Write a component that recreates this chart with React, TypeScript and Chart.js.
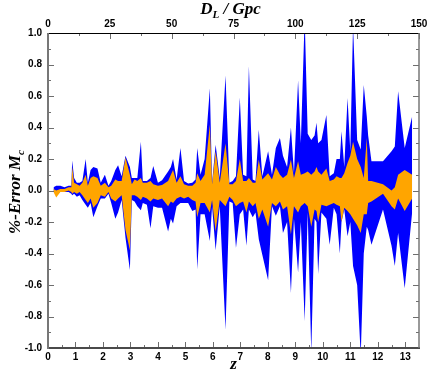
import React, { useEffect, useRef } from 'react';
import { Chart, registerables } from 'chart.js';

Chart.register(...registerables);

// redshift z of each sample
const zValues = [
  0.2, 0.3, 0.45, 0.6, 0.75, 0.85, 0.88, 0.95, 1.05, 1.15,
  1.25, 1.37, 1.45, 1.55, 1.65, 1.8, 1.92, 2.07, 2.2, 2.3,
  2.45, 2.55, 2.68, 2.82, 2.98, 3.05, 3.15, 3.25, 3.38, 3.45,
  3.6, 3.73, 3.83, 4.0, 4.15, 4.37, 4.47, 4.55, 4.68, 4.82,
  4.95, 5.1, 5.25, 5.37, 5.43, 5.55, 5.7, 5.89, 5.97, 6.1,
  6.25, 6.46, 6.6, 6.72, 6.84, 6.98, 7.1, 7.22, 7.31, 7.45,
  7.55, 7.67, 7.8, 8.01, 8.15, 8.29, 8.44, 8.55, 8.7, 8.84,
  8.95, 9.1, 9.2, 9.34, 9.45, 9.58, 9.7, 9.77, 9.83, 9.95,
  10.13, 10.25, 10.4, 10.5, 10.62, 10.68, 10.78, 10.9, 11.0, 11.1,
  11.25, 11.38, 11.49, 11.6, 11.65, 11.77, 12.19, 12.5, 12.62, 12.74,
  12.98, 13.25,
];

// blue band (wide)
const blueUpper = [
  0.02, 0.03, 0.03, 0.02, 0.03, 0.03, 0.19, 0.08, 0.05, 0.05,
  0.06, 0.2, 0.05, 0.13, 0.15, 0.14, 0.05, 0.1, 0.03, 0.06,
  0.13, 0.16, 0.09, 0.22, 0.15, 0.08, 0.08, 0.08, 0.31, 0.06,
  0.06, 0.08, 0.155, 0.05, 0.065, 0.12, 0.15, 0.2, 0.07, 0.27,
  0.06, 0.045, 0.05, 0.07, 0.27, 0.1, 0.2, 0.65, 0.05, 0.29,
  0.08, 0.73, 0.05, 0.06, 0.09, 0.59, 0.1, 0.09, 0.79, 0.07,
  0.06, 0.386, 0.09, 0.25, 0.1, 0.27, 0.333, 0.22, 0.15, 0.4,
  0.11, 0.7, 0.3, 1.1, 0.36, 0.32, 0.35, 0.43, 0.3, 0.32,
  0.48, 0.09, 0.11, 0.2, 0.2, 0.376, 0.15, 0.587, 0.25, 1.05,
  0.32, 0.26, 0.67, 0.47, 0.35, 0.185, 0.185, 0.25, 0.28, 0.63,
  0.27, 0.47,
];
const blueLower = [
  -0.01, -0.02, -0.01, -0.01, -0.01, -0.02, -0.03, -0.02, -0.04, -0.03,
  -0.06, -0.09, -0.11, -0.08, -0.17, -0.1, -0.05, -0.05, -0.02, -0.08,
  -0.18, -0.14, -0.06, -0.3, -0.505, -0.06, -0.07, -0.1, -0.125, -0.08,
  -0.09, -0.24, -0.1, -0.11, -0.11, -0.26, -0.18, -0.21, -0.1, -0.08,
  -0.08, -0.08, -0.13, -0.12, -0.5, -0.15, -0.15, -0.32, -0.1, -0.38,
  -0.1, -0.886, -0.07, -0.08, -0.365, -0.15, -0.12, -0.35, -0.12, -0.17,
  -0.14, -0.31, -0.41, -0.57, -0.1, -0.16, -0.1, -0.27, -0.2, -0.65,
  -0.18, -0.52, -0.2, -0.83, -0.14, -1.03, -0.18, -0.2, -0.53, -0.14,
  -0.18, -0.345, -0.11, -0.15, -0.4, -0.2, -0.12, -0.29, -0.2, -0.48,
  -0.6, -1.05, -0.4, -0.23, -0.25, -0.345, -0.12, -0.35, -0.48, -0.27,
  -0.62, -0.14,
];

// orange band (narrow)
const orangeUpper = [
  0.01, 0.0, 0.01, 0.01, 0.02, 0.02, 0.15, 0.05, 0.04, 0.03,
  0.05, 0.1, 0.03, 0.08, 0.09, 0.08, 0.03, 0.05, 0.02, 0.03,
  0.07, 0.06, 0.06, 0.21, 0.1, 0.04, 0.07, 0.06, 0.08, 0.05,
  0.05, 0.06, 0.04, 0.03, 0.035, 0.06, 0.1, 0.13, 0.05, 0.09,
  0.04, 0.03, 0.03, 0.05, 0.11, 0.06, 0.1, 0.42, 0.04, 0.25,
  0.05, 0.3, 0.04, 0.04, 0.06, 0.2, 0.06, 0.06, 0.08, 0.05,
  0.05, 0.196, 0.07, 0.11, 0.07, 0.15, 0.1, 0.08, 0.1, 0.196,
  0.08, 0.185, 0.1, 0.11, 0.12, 0.1, 0.12, 0.15, 0.12, 0.1,
  0.14, 0.06, 0.07, 0.09, 0.08, 0.08, 0.11, 0.175, 0.22, 0.31,
  0.2, 0.15, 0.08, 0.333, 0.06, 0.06, 0.04, 0.0, 0.02, 0.1,
  0.13, 0.1,
];
const orangeLower = [
  -0.01, -0.045, -0.01, -0.01, 0.0, -0.01, -0.02, -0.01, -0.02, -0.01,
  -0.03, -0.06, -0.08, -0.05, -0.11, -0.08, -0.03, -0.04, -0.01, -0.05,
  -0.07, -0.05, -0.03, -0.25, -0.38, -0.03, -0.03, -0.04, -0.06, -0.04,
  -0.05, -0.07, -0.05, -0.06, -0.05, -0.1, -0.07, -0.08, -0.05, -0.04,
  -0.05, -0.04, -0.06, -0.07, -0.17, -0.08, -0.08, -0.14, -0.06, -0.26,
  -0.06, -0.1, -0.04, -0.06, -0.1, -0.08, -0.07, -0.14, -0.07, -0.1,
  -0.08, -0.18, -0.12, -0.23, -0.08, -0.1, -0.07, -0.12, -0.1, -0.28,
  -0.1, -0.14, -0.1, -0.08, -0.1, -0.23, -0.12, -0.13, -0.2, -0.09,
  -0.1, -0.09, -0.08, -0.09, -0.1, -0.2, -0.11, -0.13, -0.15, -0.18,
  -0.22, -0.27, -0.15, -0.15, -0.08, -0.07, -0.02, -0.1, -0.12, -0.05,
  -0.13, -0.05,
];

// axis ticks
const zTicks = [0, 1, 2, 3, 4, 5, 6, 7, 8, 9, 10, 11, 12, 13];
const dlTicks = [0, 25, 50, 75, 100, 125, 150];
const errTicks = [-1.0, -0.8, -0.6, -0.4, -0.2, 0.0, 0.2, 0.4, 0.6, 0.8, 1.0];

const Z_MAX = 13.5;
const DL_MAX = 150;

const BLUE = '#0000ff';
const ORANGE = '#ffa500';

type Part = { t: string; sub?: boolean };

function drawParts(ctx: CanvasRenderingContext2D, parts: Part[], cx: number, baseline: number, size: number) {
  const font = (s: number) => `italic bold ${s}px "Liberation Serif", serif`;
  let total = 0;
  const widths = parts.map((p) => {
    ctx.font = font(p.sub ? size * 0.65 : size);
    const w = ctx.measureText(p.t).width;
    total += w;
    return w;
  });
  let x = cx - total / 2;
  ctx.textAlign = 'left';
  ctx.textBaseline = 'alphabetic';
  parts.forEach((p, i) => {
    ctx.font = font(p.sub ? size * 0.65 : size);
    ctx.fillText(p.t, x, baseline + (p.sub ? size * 0.25 : 0));
    x += widths[i];
  });
}

const framePlugin = {
  id: 'frameTicks',
  afterDraw(chart: any) {
    const { ctx, chartArea: a, scales } = chart;
    const sx = scales.x;
    const sx2 = scales.x2;
    const sy = scales.y;
    ctx.save();
    ctx.strokeStyle = '#6e6e6e';
    ctx.lineWidth = 1;
    const seg = (x1: number, y1: number, x2: number, y2: number) => {
      ctx.beginPath();
      ctx.moveTo(x1, y1);
      ctx.lineTo(x2, y2);
      ctx.stroke();
    };
    const major = 6;
    const minor = 3;
    zTicks.forEach((v) => {
      const p = Math.round(sx.getPixelForValue(v)) + 0.5;
      seg(p, a.bottom, p, a.bottom - major);
      const m = v + 0.5;
      if (m < Z_MAX) {
        const q = Math.round(sx.getPixelForValue(m)) + 0.5;
        seg(q, a.bottom, q, a.bottom - minor);
      }
    });
    dlTicks.forEach((v) => {
      const p = Math.round(sx2.getPixelForValue(v)) + 0.5;
      seg(p, a.top, p, a.top + major);
      const m = v + 12.5;
      if (m < DL_MAX) {
        const q = Math.round(sx2.getPixelForValue(m)) + 0.5;
        seg(q, a.top, q, a.top + minor);
      }
    });
    errTicks.forEach((v) => {
      const p = Math.round(sy.getPixelForValue(v)) + 0.5;
      seg(a.left, p, a.left + major, p);
      seg(a.right, p, a.right - major, p);
      const m = v + 0.1;
      if (m < 1.0) {
        const q = Math.round(sy.getPixelForValue(m)) + 0.5;
        seg(a.left, q, a.left + minor, q);
        seg(a.right, q, a.right - minor, q);
      }
    });
    // frame
    ctx.strokeStyle = '#000';
    ctx.lineWidth = 1.2;
    seg(a.left, a.top + 0.5, a.right, a.top + 0.5);
    ctx.strokeStyle = '#4a4a4a';
    ctx.lineWidth = 2;
    seg(a.left, a.bottom, a.right + 1, a.bottom);
    ctx.strokeStyle = '#777';
    ctx.lineWidth = 2;
    seg(a.left, a.top, a.left, a.bottom + 1);
    ctx.lineWidth = 1.5;
    seg(a.right, a.top, a.right, a.bottom);

    // titles
    ctx.fillStyle = '#000';
    const cx = (a.left + a.right) / 2;
    drawParts(ctx, [{ t: 'D' }, { t: 'L', sub: true }, { t: ' / Gpc' }], cx - 3, 14, 17);
    drawParts(ctx, [{ t: 'z' }], cx, 369, 17);
    ctx.save();
    ctx.translate(20, 192);
    ctx.rotate(-Math.PI / 2);
    drawParts(ctx, [{ t: '%-Error M' }, { t: 'c', sub: true }], 0, 0, 17);
    ctx.restore();
    ctx.restore();
  },
};

const tickFont = { family: '"Liberation Sans", Arial, sans-serif', weight: 'bold' as const, size: 10 };

const fixTicks = (list: number[]) => (s: any) => {
  s.ticks = list.map((v) => ({ value: v }));
};
const noPadH = (h: number) => (s: any) => {
  s.height = h;
  s.paddingLeft = 0;
  s.paddingRight = 0;
};
const noPadV = (w: number) => (s: any) => {
  s.width = w;
  s.paddingTop = 0;
  s.paddingBottom = 0;
};

export default function App() {
  const ref = useRef<HTMLCanvasElement | null>(null);

  useEffect(() => {
    if (!ref.current) return;
    const pts = (ys: number[]) => zValues.map((z, i) => ({ x: z, y: ys[i] }));
    const common = {
      borderWidth: 0,
      borderColor: 'rgba(0,0,0,0)',
      pointRadius: 0,
      tension: 0,
      xAxisID: 'x',
      yAxisID: 'y',
    };
    const chart = new Chart(ref.current, {
      type: 'line',
      data: {
        datasets: [
          { ...common, label: 'orange upper', data: pts(orangeUpper), fill: '+1', backgroundColor: ORANGE },
          { ...common, label: 'orange lower', data: pts(orangeLower), fill: false, backgroundColor: ORANGE },
          { ...common, label: 'blue upper', data: pts(blueUpper), fill: '+1', backgroundColor: BLUE },
          { ...common, label: 'blue lower', data: pts(blueLower), fill: false, backgroundColor: BLUE },
        ],
      },
      options: {
        animation: false,
        responsive: true,
        maintainAspectRatio: false,
        layout: { padding: 0 },
        plugins: { legend: { display: false }, tooltip: { enabled: false } },
        scales: {
          x: {
            type: 'linear',
            position: 'bottom',
            min: 0,
            max: Z_MAX,
            grid: { display: false, drawTicks: false },
            border: { display: false },
            ticks: {
              autoSkip: false,
              maxRotation: 0,
              padding: 3,
              color: '#000',
              font: tickFont,
              callback: (v: any) => String(v),
            },
            afterBuildTicks: fixTicks(zTicks),
            afterFit: noPadH(26),
          },
          x2: {
            type: 'linear',
            position: 'top',
            min: 0,
            max: DL_MAX,
            grid: { display: false, drawTicks: false },
            border: { display: false },
            ticks: {
              autoSkip: false,
              maxRotation: 0,
              padding: 3,
              color: '#000',
              font: tickFont,
              callback: (v: any) => String(v),
            },
            afterBuildTicks: fixTicks(dlTicks),
            afterFit: noPadH(33),
          },
          y: {
            type: 'linear',
            position: 'left',
            min: -1,
            max: 1,
            grid: { display: false, drawTicks: false },
            border: { display: false },
            ticks: {
              autoSkip: false,
              padding: 6,
              color: '#000',
              font: tickFont,
              callback: (v: any) => Number(v).toFixed(1),
            },
            afterBuildTicks: fixTicks(errTicks),
            afterFit: noPadV(48),
          },
          y2: {
            type: 'linear',
            position: 'right',
            min: -1,
            max: 1,
            grid: { display: false, drawTicks: false },
            border: { display: false },
            ticks: { display: false },
            afterFit: noPadV(10),
          },
        },
      } as any,
      plugins: [framePlugin],
    });
    return () => chart.destroy();
  }, []);

  return (
    <div style={{ position: 'fixed', left: 0, top: 0, width: 429, height: 374, background: '#fff' }}>
      <canvas ref={ref} />
    </div>
  );
}
